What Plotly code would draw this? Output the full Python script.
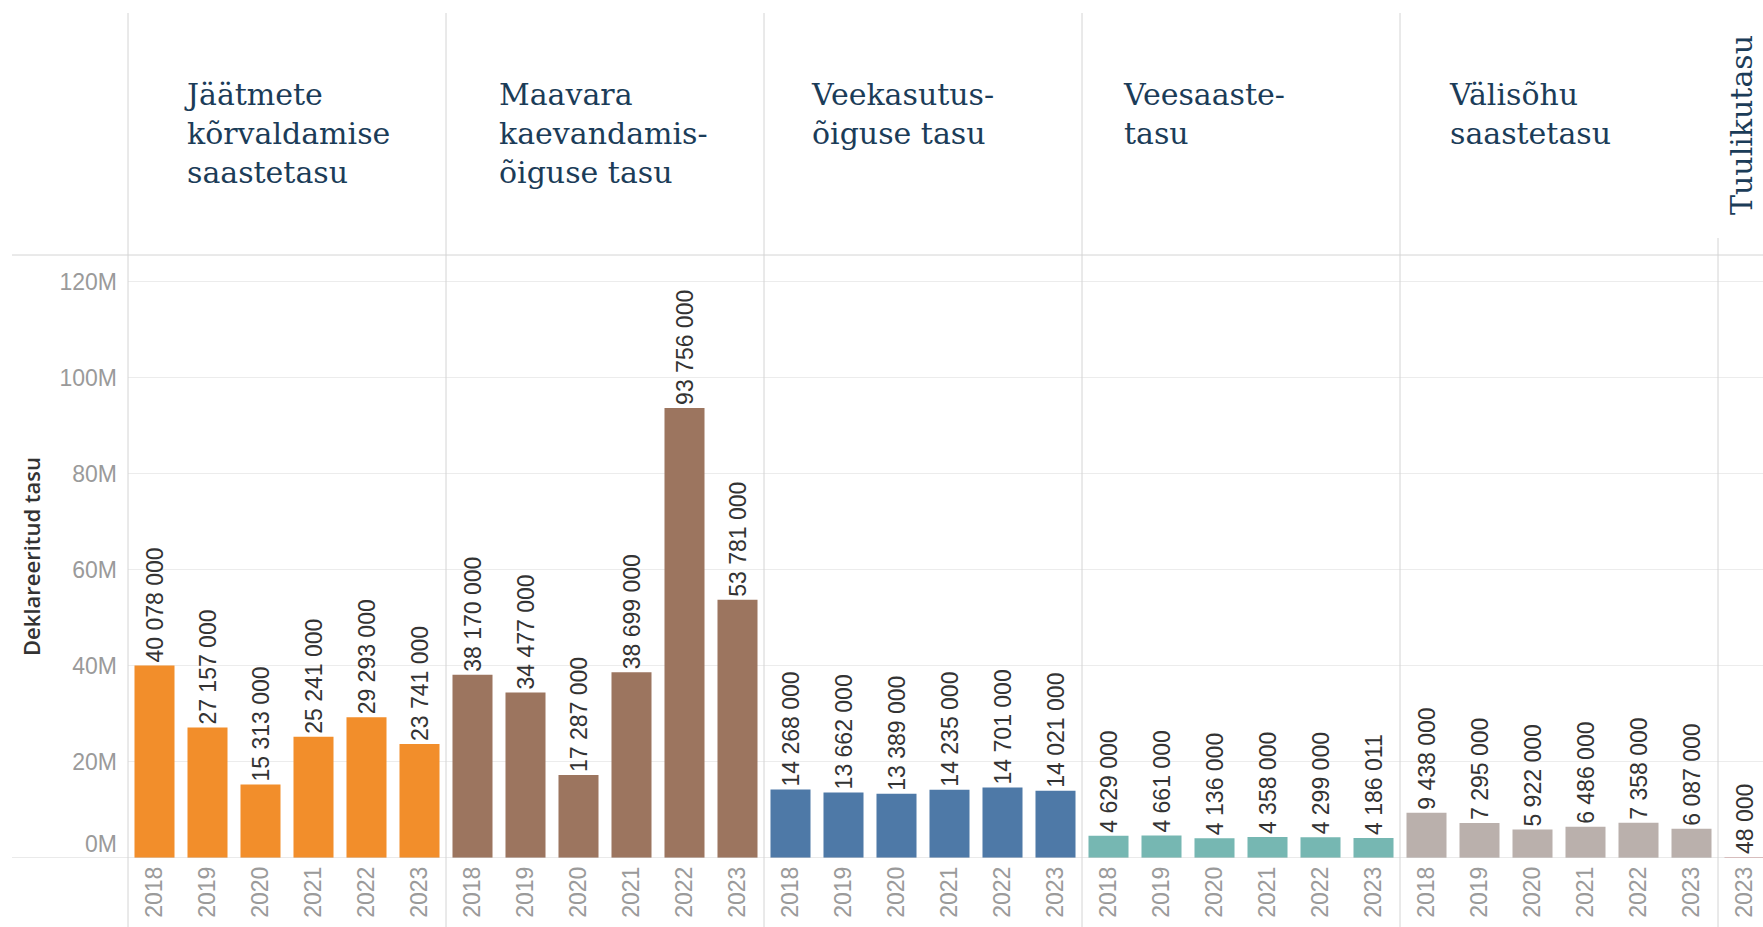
import plotly.graph_objects as go

# ---------------- data ----------------
years = ["2018", "2019", "2020", "2021", "2022", "2023"]

panel_titles = [
    "Jäätmete<br>kõrvaldamise<br>saastetasu",
    "Maavara<br>kaevandamis-<br>õiguse tasu",
    "Veekasutus-<br>õiguse tasu",
    "Veesaaste-<br>tasu",
    "Välisõhu<br>saastetasu",
    "Tuulikutasu",
]

jaatmete = [40078000, 27157000, 15313000, 25241000, 29293000, 23741000]
maavara = [38170000, 34477000, 17287000, 38699000, 93756000, 53781000]
veekasutus = [14268000, 13662000, 13389000, 14235000, 14701000, 14021000]
veesaaste = [4629000, 4661000, 4136000, 4358000, 4299000, 4186011]
valisohu = [9438000, 7295000, 5922000, 6486000, 7358000, 6087000]
tuulik_years = ["2023"]
tuulik = [48000]

y_ticks = [0, 20e6, 40e6, 60e6, 80e6, 100e6, 120e6]

series_x = [years, years, years, years, years, tuulik_years]
series_y = [jaatmete, maavara, veekasutus, veesaaste, valisohu, tuulik]
colors = ["#F28E2B", "#9C755F", "#4E79A7", "#76B7B2", "#BAB0AC", "#D9A6A6"]

# ---------------- layout geometry ----------------
W, H = 1763, 927
ML, MR, MT, MB = 128, 0, 255, 69
PW = W - ML - MR
PH = H - MT - MB
panel_px = 318
cat_px = panel_px / 6

domains = []
for i in range(5):
    domains.append([i * panel_px / PW, (i + 1) * panel_px / PW])
domains.append([5 * panel_px / PW, 1.0])
last_span = (PW - 5 * panel_px) / cat_px

def fmt(v):
    return f"{v:,}".replace(",", " ")

fig = go.Figure()
for i, (xs, ys, c) in enumerate(zip(series_x, series_y, colors)):
    ax = "x" if i == 0 else f"x{i+1}"
    fig.add_trace(go.Bar(
        x=xs, y=ys, xaxis=ax, yaxis="y",
        marker=dict(color=c, line=dict(width=0)),
        text=[fmt(v) for v in ys],
        textposition="outside", textangle=-90,
        constraintext="none", cliponaxis=False,
        textfont=dict(family="Liberation Sans, Arial", size=23, color="#333333"),
        hoverinfo="x+y", showlegend=False,
    ))
# empty trace so the overlay axis carrying the "0M" label is drawn
fig.add_trace(go.Bar(x=[], y=[], xaxis="x", yaxis="y2", showlegend=False, hoverinfo="skip"))

label_font = dict(family="Liberation Sans, Arial", size=23, color="#9a9a9a")
for i in range(6):
    key = "xaxis" if i == 0 else f"xaxis{i+1}"
    rng = [-0.5, 5.5] if i < 5 else [-0.5, -0.5 + last_span]
    fig.layout[key] = dict(
        domain=domains[i], anchor="y", type="category",
        range=rng, tickangle=-90, tickfont=label_font,
        showgrid=False, showline=False, zeroline=False, ticks="",
        ticklabelstandoff=3, fixedrange=True,
    )

y_range = [0, 125.6e6]
fig.update_layout(
    width=W, height=H, autosize=False,
    margin=dict(l=ML, r=MR, t=MT, b=MB),
    paper_bgcolor="white", plot_bgcolor="white",
    bargap=0.245,
    yaxis=dict(
        range=y_range, tickvals=y_ticks[1:],
        ticktext=[f"{int(v/1e6)}M" for v in y_ticks[1:]],
        tickfont=label_font, showgrid=True, gridcolor="#ececec", gridwidth=1,
        zeroline=False, showline=False, ticks="", ticklabelstandoff=10,
        title=dict(text="Deklareeritud tasu", standoff=12,
                   font=dict(family="Open Sans", size=22, color="#333333", weight=600)),
        anchor="x", fixedrange=True,
    ),
    yaxis2=dict(
        overlaying="y", side="left", anchor="x",
        range=y_range, tickvals=y_ticks[:1],
        ticktext=[f"{int(v/1e6)}M" for v in y_ticks[:1]],
        tickfont=label_font, showgrid=False, zeroline=False, showline=False,
        ticks="", ticklabelstandoff=10, ticklabelshift=-14, fixedrange=True,
    ),
)

# header titles
title_font = dict(family="DejaVu Serif", size=30, color="#1B3C58")
title_left_px = [182, 497, 809, 1121, 1447]
top_y = 1 + (MT - 75) / PH
for i in range(5):
    fig.add_annotation(
        text=panel_titles[i], xref="paper", yref="paper",
        x=(title_left_px[i] - ML) / PW, y=top_y,
        xanchor="left", yanchor="top", align="left",
        showarrow=False, font=title_font,
    )
fig.add_annotation(
    text=panel_titles[5], xref="paper", yref="paper",
    x=(1741 - ML) / PW, y=1 + (MT - 125) / PH,
    xanchor="center", yanchor="middle", textangle=-90,
    showarrow=False, font=title_font,
)

# panel dividers, header line and baseline
div_color = "#d4d4d4"
left_ext = (12 - ML) / PW
for i in range(6):
    top = 1 + (MT - 13) / PH if i < 5 else 1 + (MT - 238) / PH
    fig.add_shape(type="line", xref="paper", yref="paper",
                  x0=domains[i][0], x1=domains[i][0], y0=-MB / PH, y1=top,
                  line=dict(color=div_color, width=1))
fig.add_shape(type="line", xref="paper", yref="paper",
              x0=left_ext, x1=1, y0=1, y1=1,
              line=dict(color=div_color, width=1))
fig.add_shape(type="line", xref="paper", yref="y",
              x0=left_ext, x1=1, y0=0, y1=0,
              line=dict(color=div_color, width=1))

fig.write_html("out.html", config={"displayModeBar": False})

# remove default page margin so the figure sits at the window's top-left corner
with open("out.html", "r", encoding="utf-8") as f:
    html = f.read()
html = html.replace("<head>", "<head><style>html,body{margin:0;padding:0;overflow:hidden;}</style>", 1)
with open("out.html", "w", encoding="utf-8") as f:
    f.write(html)
